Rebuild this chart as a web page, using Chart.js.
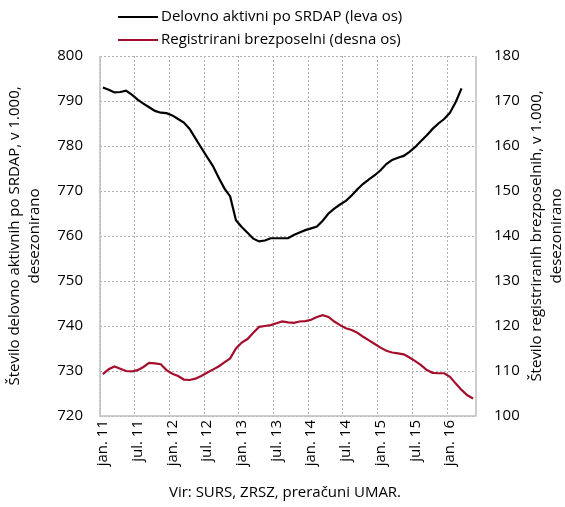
<!DOCTYPE html>
<html>
<head>
<meta charset="utf-8">
<script src="https://cdn.jsdelivr.net/npm/chart.js@4/dist/chart.umd.min.js"></script>
<style>
  html, body { margin: 0; padding: 0; background: #fff; }
  #wrap { position: relative; width: 565px; height: 507px; }
</style>
</head>
<body>
<div id="wrap"><canvas id="chart"></canvas></div>
<script>
'use strict';

var FONT = '"Open Sans", "Noto Sans", sans-serif';

// month names and years for the category axis (jan. 11 .. maj 16)
var MONTHS = ['jan.', 'feb.', 'mar.', 'apr.', 'maj', 'jun.', 'jul.', 'avg.', 'sep.', 'okt.', 'nov.', 'dec.'];
var YEARS = ['11', '12', '13', '14', '15', '16'];
var N_MONTHS = 65;

// delovno aktivni po SRDAP, v 1.000 (jan. 11 .. mar. 16)
var employed = [
  793.0, 792.5, 791.9, 792.0, 792.3, 791.4, 790.3, 789.4, 788.6, 787.8, 787.4, 787.3,
  786.8, 786.0, 785.2, 783.8, 781.7, 779.6, 777.6, 775.6, 773.0, 770.6, 768.8, 763.5,
  762.0, 760.7, 759.4, 758.8, 759.0, 759.5, 759.5, 759.5, 759.5, 760.2, 760.8, 761.3,
  761.7, 762.1, 763.4, 765.0, 766.1, 767.0, 767.8, 769.0, 770.4, 771.6, 772.6, 773.5,
  774.6, 776.0, 776.9, 777.4, 777.8, 778.7, 779.8, 781.1, 782.4, 783.8, 785.0, 786.0,
  787.4, 789.8, 792.8
];

// registrirani brezposelni, v 1.000 (jan. 11 .. maj 16)
var unemployed = [
  109.3, 110.4, 111.0, 110.5, 110.0, 109.9, 110.2, 110.9, 111.8, 111.7, 111.5, 110.2,
  109.4, 108.9, 108.1, 108.0, 108.3, 108.9, 109.6, 110.3, 111.0, 111.9, 112.8, 115.0,
  116.3, 117.1, 118.5, 119.8, 120.0, 120.2, 120.6, 121.0, 120.8, 120.7, 121.0, 121.1,
  121.4, 122.0, 122.4, 122.0, 121.0, 120.2, 119.5, 119.1, 118.5, 117.6, 116.8, 116.0,
  115.2, 114.5, 114.1, 113.9, 113.7, 113.0, 112.2, 111.3, 110.2, 109.6, 109.5, 109.5,
  108.7, 107.2, 105.8, 104.6, 103.9
];

var seriesNames = ['Delovno aktivni po SRDAP (leva os)', 'Registrirani brezposelni (desna os)'];
var seriesColors = ['#000000', '#a50f2d'];
var leftTitle = ['Število delovno aktivnih po SRDAP, v 1.000,', 'desezonirano'];
var rightTitle = ['Število registriranih brezposelnih, v 1.000,', 'desezonirano'];
var sourceNote = 'Vir: SURS, ZRSZ, preračuni UMAR.';

var labels = [];
for (var i = 0; i < N_MONTHS; i++) {
  labels.push(MONTHS[i % 12] + ' ' + YEARS[Math.floor(i / 12)]);
}

// legend, rotated axis titles and source line
var decorations = {
  id: 'decorations',
  afterDraw: function (chart) {
    var c = chart.ctx;
    var area = chart.chartArea;
    c.save();
    c.font = '15px ' + FONT;
    c.fillStyle = '#000';
    c.textBaseline = 'middle';

    // legend
    seriesNames.forEach(function (name, k) {
      var y = 17 + k * 23;
      c.strokeStyle = seriesColors[k];
      c.lineWidth = 2;
      c.beginPath();
      c.moveTo(118, y);
      c.lineTo(158, y);
      c.stroke();
      c.textAlign = 'left';
      c.fillText(name, 161, y);
    });

    // axis titles, both read bottom-to-top
    var cy = (area.top + area.bottom) / 2;
    function drawTitle(lines, xs) {
      lines.forEach(function (t, k) {
        c.save();
        c.translate(xs[k], cy);
        c.rotate(-Math.PI / 2);
        c.textAlign = 'center';
        c.fillText(t, 0, 0);
        c.restore();
      });
    }
    drawTitle(leftTitle, [15, 35]);
    drawTitle(rightTitle, [537, 557]);

    // source
    c.textAlign = 'center';
    c.fillText(sourceNote, 285, 493);
    c.restore();
  }
};

// solid axis lines over the dotted grid
var axisLines = {
  id: 'axisLines',
  afterDatasetsDraw: function (chart) {
    var c = chart.ctx;
    var a = chart.chartArea;
    c.save();
    c.strokeStyle = '#bfbfbf';
    c.lineWidth = 1.5;
    c.setLineDash([]);
    c.beginPath();
    c.moveTo(a.left, a.top);
    c.lineTo(a.left, a.bottom);
    c.lineTo(a.right, a.bottom);
    c.lineTo(a.right, a.top);
    c.stroke();
    c.restore();
  }
};

new Chart(document.getElementById('chart'), {
  type: 'line',
  data: {
    labels: labels,
    datasets: [
      {
        label: seriesNames[0],
        data: employed,
        yAxisID: 'y',
        borderColor: seriesColors[0],
        borderWidth: 2.2,
        pointRadius: 0,
        tension: 0,
        fill: false
      },
      {
        label: seriesNames[1],
        data: unemployed,
        yAxisID: 'y2',
        borderColor: seriesColors[1],
        borderWidth: 2.2,
        pointRadius: 0,
        tension: 0,
        fill: false
      }
    ]
  },
  options: {
    responsive: true,
    maintainAspectRatio: false,
    animation: false,
    layout: { padding: { top: 56, left: 0, right: 0, bottom: 0 } },
    plugins: {
      legend: { display: false },
      tooltip: { enabled: false }
    },
    scales: {
      x: {
        type: 'category',
        offset: true,
        afterFit: function (s) { s.height = 91; },
        grid: {
          offset: true,
          drawTicks: false,
          lineWidth: 1,
          color: function (ctx) { return ctx.index % 6 === 0 ? '#b0b0b0' : 'rgba(0,0,0,0)'; }
        },
        border: { display: false, dash: [2, 2] },
        ticks: {
          autoSkip: false,
          maxRotation: 90,
          minRotation: 90,
          padding: 4,
          color: '#000',
          font: { family: FONT, size: 15 },
          callback: function (v, idx) { return idx % 6 === 0 ? this.getLabelForValue(v) : ''; }
        }
      },
      y: {
        position: 'left',
        min: 720,
        max: 800,
        afterFit: function (s) { s.width = 100; },
        grid: { color: '#b0b0b0', lineWidth: 1, drawTicks: false },
        border: { display: false, dash: [2, 2] },
        ticks: {
          stepSize: 10,
          padding: 17,
          color: '#000',
          font: { family: FONT, size: 15 }
        }
      },
      y2: {
        position: 'right',
        min: 100,
        max: 180,
        afterFit: function (s) { s.width = 89; },
        grid: { drawOnChartArea: false, drawTicks: false },
        border: { display: false },
        ticks: {
          stepSize: 10,
          padding: 18,
          color: '#000',
          font: { family: FONT, size: 15 }
        }
      }
    }
  },
  plugins: [decorations, axisLines]
});
</script>
</body>
</html>
